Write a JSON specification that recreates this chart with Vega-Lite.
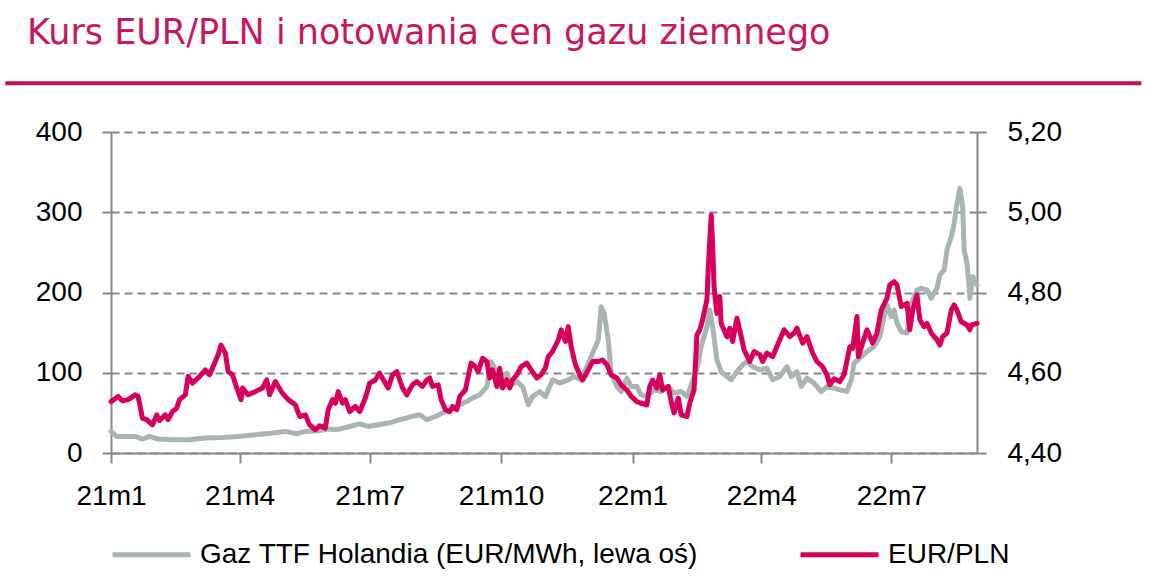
{
  "$schema": "https://vega.github.io/schema/vega-lite/v6.json",
  "autosize": {"type": "none"},
  "width": 866,
  "height": 321,
  "padding": {"left": 111, "top": 132, "right": 177, "bottom": 134},
  "background": "#ffffff",
  "title": {
    "text": "Kurs EUR/PLN i notowania cen gazu ziemnego",
    "anchor": "start",
    "frame": "group",
    "font": "DejaVu Sans",
    "fontSize": 35,
    "fontWeight": "normal",
    "color": "#C8175E",
    "dx": -84,
    "dy": -20,
    "offset": 10
  },
  "datasets": {
    "gas": [
      {"date": "2021-01-01", "gas": 26.9}, {"date": "2021-01-05", "gas": 20.6}, {"date": "2021-01-11", "gas": 20.6},
      {"date": "2021-01-18", "gas": 20.6}, {"date": "2021-01-23", "gas": 17.4}, {"date": "2021-01-28", "gas": 20.6},
      {"date": "2021-02-03", "gas": 17.4}, {"date": "2021-02-13", "gas": 16.5}, {"date": "2021-02-24", "gas": 16.5},
      {"date": "2021-03-08", "gas": 18.7}, {"date": "2021-03-20", "gas": 19.4}, {"date": "2021-03-31", "gas": 20.6},
      {"date": "2021-04-12", "gas": 22.8}, {"date": "2021-04-24", "gas": 24.9}, {"date": "2021-05-03", "gas": 26.9},
      {"date": "2021-05-11", "gas": 24.0}, {"date": "2021-05-17", "gas": 26.9}, {"date": "2021-05-26", "gas": 27.7},
      {"date": "2021-06-02", "gas": 29.9}, {"date": "2021-06-08", "gas": 29.0}, {"date": "2021-06-19", "gas": 34.0},
      {"date": "2021-06-24", "gas": 36.4}, {"date": "2021-06-30", "gas": 33.1}, {"date": "2021-07-07", "gas": 35.2},
      {"date": "2021-07-14", "gas": 37.3}, {"date": "2021-07-22", "gas": 41.4}, {"date": "2021-07-29", "gas": 44.8},
      {"date": "2021-08-05", "gas": 47.6}, {"date": "2021-08-10", "gas": 41.4}, {"date": "2021-08-16", "gas": 45.5},
      {"date": "2021-08-21", "gas": 49.8}, {"date": "2021-08-27", "gas": 53.9}, {"date": "2021-09-02", "gas": 60.1},
      {"date": "2021-09-07", "gas": 64.2}, {"date": "2021-09-11", "gas": 68.4}, {"date": "2021-09-16", "gas": 72.5},
      {"date": "2021-09-21", "gas": 82.8}, {"date": "2021-09-24", "gas": 113.9}, {"date": "2021-09-27", "gas": 103.6},
      {"date": "2021-09-30", "gas": 82.8}, {"date": "2021-10-05", "gas": 99.5}, {"date": "2021-10-08", "gas": 85.0},
      {"date": "2021-10-12", "gas": 89.1}, {"date": "2021-10-16", "gas": 82.8}, {"date": "2021-10-20", "gas": 60.1},
      {"date": "2021-10-23", "gas": 70.4}, {"date": "2021-10-28", "gas": 76.6}, {"date": "2021-11-01", "gas": 70.4},
      {"date": "2021-11-06", "gas": 91.2}, {"date": "2021-11-11", "gas": 87.1}, {"date": "2021-11-17", "gas": 91.2},
      {"date": "2021-11-21", "gas": 95.3}, {"date": "2021-11-26", "gas": 91.2}, {"date": "2021-12-01", "gas": 111.9},
      {"date": "2021-12-04", "gas": 124.4}, {"date": "2021-12-08", "gas": 140.9}, {"date": "2021-12-10", "gas": 182.3},
      {"date": "2021-12-12", "gas": 174.1}, {"date": "2021-12-15", "gas": 140.9}, {"date": "2021-12-17", "gas": 99.5},
      {"date": "2021-12-21", "gas": 82.8}, {"date": "2021-12-24", "gas": 76.6}, {"date": "2021-12-28", "gas": 93.3},
      {"date": "2021-12-31", "gas": 82.8}, {"date": "2022-01-04", "gas": 82.8}, {"date": "2022-01-07", "gas": 72.5},
      {"date": "2022-01-11", "gas": 70.4}, {"date": "2022-01-16", "gas": 78.7}, {"date": "2022-01-21", "gas": 76.6},
      {"date": "2022-01-26", "gas": 82.8}, {"date": "2022-01-30", "gas": 74.6}, {"date": "2022-02-04", "gas": 76.6},
      {"date": "2022-02-08", "gas": 70.4}, {"date": "2022-02-11", "gas": 85.0}, {"date": "2022-02-15", "gas": 103.6},
      {"date": "2022-02-18", "gas": 132.6}, {"date": "2022-02-22", "gas": 157.5}, {"date": "2022-02-24", "gas": 178.2},
      {"date": "2022-02-26", "gas": 157.5}, {"date": "2022-03-01", "gas": 116.0}, {"date": "2022-03-04", "gas": 101.5},
      {"date": "2022-03-08", "gas": 95.3}, {"date": "2022-03-11", "gas": 91.2}, {"date": "2022-03-15", "gas": 101.5},
      {"date": "2022-03-19", "gas": 109.8}, {"date": "2022-03-22", "gas": 113.9}, {"date": "2022-03-26", "gas": 107.7},
      {"date": "2022-03-31", "gas": 103.6}, {"date": "2022-04-05", "gas": 105.7}, {"date": "2022-04-09", "gas": 91.2},
      {"date": "2022-04-14", "gas": 95.3}, {"date": "2022-04-19", "gas": 107.7}, {"date": "2022-04-22", "gas": 95.3},
      {"date": "2022-04-26", "gas": 101.5}, {"date": "2022-04-29", "gas": 82.8}, {"date": "2022-05-03", "gas": 93.3},
      {"date": "2022-05-08", "gas": 87.1}, {"date": "2022-05-13", "gas": 76.6}, {"date": "2022-05-17", "gas": 82.8},
      {"date": "2022-05-22", "gas": 80.8}, {"date": "2022-05-26", "gas": 78.7}, {"date": "2022-05-31", "gas": 76.6},
      {"date": "2022-06-03", "gas": 91.2}, {"date": "2022-06-05", "gas": 111.9}, {"date": "2022-06-10", "gas": 120.1},
      {"date": "2022-06-14", "gas": 126.4}, {"date": "2022-06-19", "gas": 132.6}, {"date": "2022-06-23", "gas": 145.0},
      {"date": "2022-06-26", "gas": 169.9}, {"date": "2022-06-28", "gas": 184.5}, {"date": "2022-07-01", "gas": 169.9},
      {"date": "2022-07-03", "gas": 178.2}, {"date": "2022-07-05", "gas": 161.7}, {"date": "2022-07-08", "gas": 151.2},
      {"date": "2022-07-12", "gas": 149.3}, {"date": "2022-07-15", "gas": 186.6}, {"date": "2022-07-19", "gas": 203.1},
      {"date": "2022-07-22", "gas": 205.2}, {"date": "2022-07-26", "gas": 203.1}, {"date": "2022-07-29", "gas": 192.8},
      {"date": "2022-08-02", "gas": 205.2}, {"date": "2022-08-04", "gas": 221.8}, {"date": "2022-08-07", "gas": 228.0},
      {"date": "2022-08-09", "gas": 252.9}, {"date": "2022-08-12", "gas": 269.4}, {"date": "2022-08-14", "gas": 286.1},
      {"date": "2022-08-16", "gas": 310.9}, {"date": "2022-08-18", "gas": 329.6}, {"date": "2022-08-20", "gas": 306.7},
      {"date": "2022-08-21", "gas": 252.9}, {"date": "2022-08-23", "gas": 236.3}, {"date": "2022-08-24", "gas": 215.5},
      {"date": "2022-08-25", "gas": 192.8}, {"date": "2022-08-27", "gas": 219.7}, {"date": "2022-08-30", "gas": 209.3}
    ],
    "eurpln": [
      {"date": "2021-01-01", "rate": 4.528}, {"date": "2021-01-06", "rate": 4.541}, {"date": "2021-01-09", "rate": 4.530},
      {"date": "2021-01-13", "rate": 4.533}, {"date": "2021-01-18", "rate": 4.545}, {"date": "2021-01-20", "rate": 4.541},
      {"date": "2021-01-23", "rate": 4.487}, {"date": "2021-01-26", "rate": 4.483}, {"date": "2021-01-30", "rate": 4.470},
      {"date": "2021-02-02", "rate": 4.495}, {"date": "2021-02-04", "rate": 4.481}, {"date": "2021-02-08", "rate": 4.495},
      {"date": "2021-02-10", "rate": 4.483}, {"date": "2021-02-13", "rate": 4.503}, {"date": "2021-02-16", "rate": 4.512},
      {"date": "2021-02-18", "rate": 4.533}, {"date": "2021-02-22", "rate": 4.545}, {"date": "2021-02-24", "rate": 4.591},
      {"date": "2021-02-27", "rate": 4.574}, {"date": "2021-03-03", "rate": 4.587}, {"date": "2021-03-08", "rate": 4.607},
      {"date": "2021-03-11", "rate": 4.595}, {"date": "2021-03-15", "rate": 4.628}, {"date": "2021-03-17", "rate": 4.645},
      {"date": "2021-03-19", "rate": 4.669}, {"date": "2021-03-22", "rate": 4.649}, {"date": "2021-03-24", "rate": 4.603},
      {"date": "2021-03-27", "rate": 4.595}, {"date": "2021-03-30", "rate": 4.562}, {"date": "2021-04-02", "rate": 4.533},
      {"date": "2021-04-03", "rate": 4.562}, {"date": "2021-04-07", "rate": 4.545}, {"date": "2021-04-12", "rate": 4.553},
      {"date": "2021-04-17", "rate": 4.562}, {"date": "2021-04-20", "rate": 4.582}, {"date": "2021-04-22", "rate": 4.545},
      {"date": "2021-04-26", "rate": 4.578}, {"date": "2021-05-01", "rate": 4.549}, {"date": "2021-05-05", "rate": 4.533},
      {"date": "2021-05-10", "rate": 4.520}, {"date": "2021-05-13", "rate": 4.491}, {"date": "2021-05-17", "rate": 4.495},
      {"date": "2021-05-20", "rate": 4.470}, {"date": "2021-05-24", "rate": 4.458}, {"date": "2021-05-27", "rate": 4.468},
      {"date": "2021-05-31", "rate": 4.462}, {"date": "2021-06-02", "rate": 4.508}, {"date": "2021-06-05", "rate": 4.533},
      {"date": "2021-06-07", "rate": 4.524}, {"date": "2021-06-09", "rate": 4.553}, {"date": "2021-06-12", "rate": 4.524},
      {"date": "2021-06-14", "rate": 4.533}, {"date": "2021-06-17", "rate": 4.503}, {"date": "2021-06-21", "rate": 4.516},
      {"date": "2021-06-24", "rate": 4.503}, {"date": "2021-06-28", "rate": 4.537}, {"date": "2021-07-01", "rate": 4.574},
      {"date": "2021-07-05", "rate": 4.582}, {"date": "2021-07-08", "rate": 4.599}, {"date": "2021-07-12", "rate": 4.574},
      {"date": "2021-07-14", "rate": 4.562}, {"date": "2021-07-17", "rate": 4.595}, {"date": "2021-07-20", "rate": 4.603},
      {"date": "2021-07-24", "rate": 4.562}, {"date": "2021-07-27", "rate": 4.545}, {"date": "2021-07-31", "rate": 4.570},
      {"date": "2021-08-03", "rate": 4.578}, {"date": "2021-08-07", "rate": 4.566}, {"date": "2021-08-10", "rate": 4.582},
      {"date": "2021-08-12", "rate": 4.587}, {"date": "2021-08-14", "rate": 4.566}, {"date": "2021-08-18", "rate": 4.570},
      {"date": "2021-08-20", "rate": 4.533}, {"date": "2021-08-23", "rate": 4.508}, {"date": "2021-08-26", "rate": 4.503},
      {"date": "2021-08-28", "rate": 4.516}, {"date": "2021-08-31", "rate": 4.508}, {"date": "2021-09-02", "rate": 4.541},
      {"date": "2021-09-06", "rate": 4.557}, {"date": "2021-09-08", "rate": 4.591}, {"date": "2021-09-10", "rate": 4.624},
      {"date": "2021-09-13", "rate": 4.615}, {"date": "2021-09-15", "rate": 4.603}, {"date": "2021-09-18", "rate": 4.636},
      {"date": "2021-09-21", "rate": 4.628}, {"date": "2021-09-23", "rate": 4.587}, {"date": "2021-09-25", "rate": 4.607},
      {"date": "2021-09-28", "rate": 4.566}, {"date": "2021-09-30", "rate": 4.611}, {"date": "2021-10-02", "rate": 4.562},
      {"date": "2021-10-05", "rate": 4.582}, {"date": "2021-10-07", "rate": 4.562}, {"date": "2021-10-09", "rate": 4.582},
      {"date": "2021-10-12", "rate": 4.595}, {"date": "2021-10-15", "rate": 4.615}, {"date": "2021-10-19", "rate": 4.624},
      {"date": "2021-10-22", "rate": 4.607}, {"date": "2021-10-26", "rate": 4.587}, {"date": "2021-10-29", "rate": 4.595},
      {"date": "2021-11-01", "rate": 4.612}, {"date": "2021-11-03", "rate": 4.640}, {"date": "2021-11-06", "rate": 4.653},
      {"date": "2021-11-10", "rate": 4.682}, {"date": "2021-11-12", "rate": 4.707}, {"date": "2021-11-15", "rate": 4.678},
      {"date": "2021-11-17", "rate": 4.715}, {"date": "2021-11-19", "rate": 4.665}, {"date": "2021-11-22", "rate": 4.620},
      {"date": "2021-11-25", "rate": 4.595}, {"date": "2021-11-27", "rate": 4.582}, {"date": "2021-12-01", "rate": 4.607},
      {"date": "2021-12-04", "rate": 4.628}, {"date": "2021-12-08", "rate": 4.628}, {"date": "2021-12-11", "rate": 4.632},
      {"date": "2021-12-14", "rate": 4.620}, {"date": "2021-12-17", "rate": 4.595}, {"date": "2021-12-21", "rate": 4.587},
      {"date": "2021-12-24", "rate": 4.570}, {"date": "2021-12-28", "rate": 4.557}, {"date": "2021-12-31", "rate": 4.541},
      {"date": "2022-01-04", "rate": 4.528}, {"date": "2022-01-07", "rate": 4.524}, {"date": "2022-01-11", "rate": 4.520},
      {"date": "2022-01-13", "rate": 4.566}, {"date": "2022-01-15", "rate": 4.582}, {"date": "2022-01-18", "rate": 4.562},
      {"date": "2022-01-20", "rate": 4.595}, {"date": "2022-01-22", "rate": 4.557}, {"date": "2022-01-26", "rate": 4.566},
      {"date": "2022-01-28", "rate": 4.528}, {"date": "2022-01-30", "rate": 4.500}, {"date": "2022-02-02", "rate": 4.537},
      {"date": "2022-02-04", "rate": 4.495}, {"date": "2022-02-08", "rate": 4.491}, {"date": "2022-02-10", "rate": 4.524},
      {"date": "2022-02-13", "rate": 4.557}, {"date": "2022-02-15", "rate": 4.694}, {"date": "2022-02-17", "rate": 4.707},
      {"date": "2022-02-19", "rate": 4.732}, {"date": "2022-02-22", "rate": 4.781}, {"date": "2022-02-23", "rate": 4.864},
      {"date": "2022-02-25", "rate": 4.993}, {"date": "2022-02-26", "rate": 4.922}, {"date": "2022-02-27", "rate": 4.814},
      {"date": "2022-03-01", "rate": 4.748}, {"date": "2022-03-03", "rate": 4.790}, {"date": "2022-03-04", "rate": 4.723},
      {"date": "2022-03-08", "rate": 4.690}, {"date": "2022-03-10", "rate": 4.711}, {"date": "2022-03-12", "rate": 4.678},
      {"date": "2022-03-15", "rate": 4.736}, {"date": "2022-03-18", "rate": 4.690}, {"date": "2022-03-20", "rate": 4.657},
      {"date": "2022-03-24", "rate": 4.628}, {"date": "2022-03-27", "rate": 4.653}, {"date": "2022-03-31", "rate": 4.645},
      {"date": "2022-04-02", "rate": 4.628}, {"date": "2022-04-05", "rate": 4.649}, {"date": "2022-04-09", "rate": 4.640},
      {"date": "2022-04-14", "rate": 4.682}, {"date": "2022-04-17", "rate": 4.707}, {"date": "2022-04-21", "rate": 4.690},
      {"date": "2022-04-24", "rate": 4.699}, {"date": "2022-04-26", "rate": 4.711}, {"date": "2022-04-30", "rate": 4.674},
      {"date": "2022-05-03", "rate": 4.690}, {"date": "2022-05-07", "rate": 4.649}, {"date": "2022-05-10", "rate": 4.628},
      {"date": "2022-05-14", "rate": 4.615}, {"date": "2022-05-17", "rate": 4.595}, {"date": "2022-05-19", "rate": 4.570},
      {"date": "2022-05-22", "rate": 4.585}, {"date": "2022-05-26", "rate": 4.578}, {"date": "2022-05-29", "rate": 4.595},
      {"date": "2022-06-02", "rate": 4.665}, {"date": "2022-06-04", "rate": 4.661}, {"date": "2022-06-07", "rate": 4.740},
      {"date": "2022-06-08", "rate": 4.640}, {"date": "2022-06-11", "rate": 4.674}, {"date": "2022-06-14", "rate": 4.707},
      {"date": "2022-06-18", "rate": 4.674}, {"date": "2022-06-21", "rate": 4.699}, {"date": "2022-06-24", "rate": 4.756},
      {"date": "2022-06-28", "rate": 4.786}, {"date": "2022-06-30", "rate": 4.819}, {"date": "2022-07-03", "rate": 4.827},
      {"date": "2022-07-05", "rate": 4.819}, {"date": "2022-07-08", "rate": 4.765}, {"date": "2022-07-12", "rate": 4.773},
      {"date": "2022-07-14", "rate": 4.707}, {"date": "2022-07-16", "rate": 4.756}, {"date": "2022-07-19", "rate": 4.794},
      {"date": "2022-07-21", "rate": 4.732}, {"date": "2022-07-24", "rate": 4.715}, {"date": "2022-07-26", "rate": 4.723},
      {"date": "2022-07-29", "rate": 4.699}, {"date": "2022-08-02", "rate": 4.682}, {"date": "2022-08-04", "rate": 4.669},
      {"date": "2022-08-06", "rate": 4.690}, {"date": "2022-08-09", "rate": 4.699}, {"date": "2022-08-12", "rate": 4.756},
      {"date": "2022-08-14", "rate": 4.769}, {"date": "2022-08-16", "rate": 4.756}, {"date": "2022-08-19", "rate": 4.727},
      {"date": "2022-08-23", "rate": 4.719}, {"date": "2022-08-25", "rate": 4.707}, {"date": "2022-08-26", "rate": 4.719},
      {"date": "2022-08-30", "rate": 4.723}
    ],
    "decor": [{"start": "2020-10-19", "end": "2022-12-23", "level": 460.6}]
  },
  "layer": [
    {
      "data": {"name": "gas"},
      "mark": {"type": "line", "strokeWidth": 5, "strokeJoin": "round", "strokeCap": "round"},
      "encoding": {
        "x": {
          "field": "date", "type": "temporal",
          "scale": {"type": "utc", "domain": [{"year": 2021, "month": 1, "date": 1, "utc": true}, {"year": 2022, "month": 8, "date": 30, "utc": true}]},
          "axis": {
            "title": null,
            "values": [
              {"year": 2021, "month": 1, "date": 1, "utc": true},
              {"year": 2021, "month": 4, "date": 1, "utc": true},
              {"year": 2021, "month": 7, "date": 1, "utc": true},
              {"year": 2021, "month": 10, "date": 1, "utc": true},
              {"year": 2022, "month": 1, "date": 1, "utc": true},
              {"year": 2022, "month": 4, "date": 1, "utc": true},
              {"year": 2022, "month": 7, "date": 1, "utc": true}
            ],
            "labelExpr": "utcFormat(datum.value, '%y') + 'm' + (utcmonth(datum.value) + 1)",
            "grid": false,
            "tickSize": 10,
            "labelPadding": 19,
            "labelFlush": false,
            "labelOverlap": false
          }
        },
        "y": {
          "field": "gas", "type": "quantitative",
          "scale": {"domain": [0, 400], "nice": false},
          "axis": {
            "orient": "left",
            "title": null,
            "values": [0, 100, 200, 300, 400],
            "grid": true,
            "labelPadding": 20
          }
        },
        "color": {
          "datum": "Gaz TTF Holandia (EUR/MWh, lewa oś)",
          "scale": {
            "domain": ["Gaz TTF Holandia (EUR/MWh, lewa oś)", "EUR/PLN"],
            "range": ["#AAB4B4", "#D8005A"]
          },
          "legend": {
            "title": null,
            "orient": "none",
            "direction": "horizontal",
            "legendX": -1,
            "legendY": 381,
            "padding": 0,
            "symbolType": "stroke",
            "symbolSize": 6084,
            "symbolStrokeWidth": 5,
            "labelOffset": 7,
            "columnPadding": 92,
            "labelFont": "Liberation Sans",
            "labelFontSize": 28,
            "labelColor": "#000000",
            "labelLimit": 0
          }
        }
      }
    },
    {
      "data": {"name": "eurpln"},
      "mark": {"type": "line", "strokeWidth": 5, "strokeJoin": "round", "strokeCap": "round"},
      "encoding": {
        "x": {"field": "date", "type": "temporal"},
        "y": {
          "field": "rate", "type": "quantitative",
          "scale": {"domain": [4.4, 5.2], "nice": false, "zero": false},
          "axis": {
            "orient": "right",
            "title": null,
            "values": [4.4, 4.6, 4.8, 5.0, 5.2],
            "labelExpr": "replace(format(datum.value, '.2f'), '.', ',')",
            "grid": false,
            "labelPadding": 21
          }
        },
        "color": {"datum": "EUR/PLN"}
      }
    },
    {
      "data": {"name": "decor"},
      "mark": {"type": "rule", "color": "#C0145A", "strokeWidth": 4, "clip": false},
      "encoding": {
        "x": {"field": "start", "type": "temporal"},
        "x2": {"field": "end"},
        "y": {"field": "level", "type": "quantitative", "scale": {"domain": [0, 400], "nice": false}, "axis": null}
      }
    }
  ],
  "resolve": {"scale": {"y": "independent"}, "axis": {"y": "independent"}},
  "config": {
    "view": {"stroke": null},
    "axis": {
      "domainColor": "#888888",
      "domainWidth": 2,
      "tickColor": "#888888",
      "tickWidth": 2,
      "tickSize": 9,
      "labelFont": "Liberation Sans",
      "labelFontSize": 28,
      "labelColor": "#000000",
      "gridColor": "#888888",
      "gridDash": [8, 5],
      "gridWidth": 2
    }
  }
}
